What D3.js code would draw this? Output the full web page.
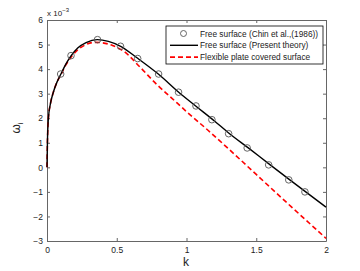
<!DOCTYPE html>
<html>
<head>
<meta charset="utf-8">
<script src="https://cdn.jsdelivr.net/npm/d3@7"></script>
<style>
  body { margin: 0; background: #fff; }
  text { font-family: "Liberation Sans", Arial, sans-serif; }
</style>
</head>
<body>
<svg id="drawing_region"></svg>
<script>
// values in units of 1e-3
const chinK = [0.098, 0.172, 0.362, 0.527, 0.650, 0.800, 0.943, 1.068, 1.182, 1.302, 1.435, 1.589, 1.733, 1.849];
const chinW = [3.80, 4.55, 5.20, 4.93, 4.43, 3.80, 3.06, 2.50, 1.94, 1.37, 0.79, 0.10, -0.51, -1.00];

const freeK = [0, 0.003, 0.01, 0.025, 0.045, 0.07, 0.1, 0.135, 0.172, 0.22, 0.28, 0.36, 0.44, 0.528, 0.65, 0.8, 0.944, 1.068, 1.2, 1.3, 1.45, 1.6, 1.75, 1.85, 2.0];
const freeW = [0, 1.0, 2.0, 2.6, 3.05, 3.45, 3.8, 4.2, 4.54, 4.86, 5.08, 5.2, 5.13, 4.93, 4.44, 3.79, 3.06, 2.49, 1.89, 1.41, 0.76, 0.1, -0.55, -0.98, -1.62];

const plateK = [0, 0.003, 0.01, 0.025, 0.045, 0.07, 0.1, 0.135, 0.172, 0.22, 0.28, 0.34, 0.4, 0.47, 0.547, 0.667, 0.786, 0.894, 1.0, 1.156, 1.3, 1.5, 1.75, 2.0];
const plateW = [0, 1.0, 2.0, 2.6, 3.05, 3.45, 3.78, 4.17, 4.48, 4.78, 5.0, 5.09, 5.07, 4.96, 4.74, 4.08, 3.38, 2.82, 2.27, 1.5, 0.76, -0.29, -1.6, -2.89];

const xTicks = [0, 0.5, 1, 1.5, 2];
const yTicks = [-3, -2, -1, 0, 1, 2, 3, 4, 5, 6];
const legendLabels = ['Free surface (Chin et al.,(1986))', 'Free surface (Present theory)', 'Flexible plate covered surface'];

const width = 360, height = 271;
const margin = { top: 20, right: 34, bottom: 30, left: 47 };
const innerW = width - margin.left - margin.right;
const innerH = height - margin.top - margin.bottom;

const svg = d3.select('#drawing_region').attr('width', width).attr('height', height);
const chart = svg.append('g').attr('transform', `translate(${margin.left},${margin.top})`);

const x = d3.scaleLinear().domain([0, 2]).range([0, innerW]);
const y = d3.scaleLinear().domain([-3, 6]).range([innerH, 0]);

const axisColor = '#666';

// axes with inward ticks
const xAxis = chart.append('g').attr('transform', `translate(0,${innerH})`)
    .call(d3.axisBottom(x).tickValues(xTicks).tickSizeInner(-3).tickSizeOuter(0).tickPadding(6).tickFormat(d3.format('')));
const yAxis = chart.append('g')
    .call(d3.axisLeft(y).tickValues(yTicks).tickSizeInner(-3).tickSizeOuter(0).tickPadding(4)
        .tickFormat(d => d < 0 ? '\u2212' + Math.abs(d) : d));
const xTop = chart.append('g')
    .call(d3.axisTop(x).tickValues(xTicks).tickSizeInner(-3).tickSizeOuter(0).tickFormat(''));
const yRight = chart.append('g').attr('transform', `translate(${innerW},0)`)
    .call(d3.axisRight(y).tickValues(yTicks).tickSizeInner(-3).tickSizeOuter(0).tickFormat(''));

[xAxis, yAxis, xTop, yRight].forEach(a => {
    a.selectAll('path').attr('stroke', axisColor);
    a.selectAll('line').attr('stroke', axisColor);
    a.selectAll('text').attr('fill', '#222').style('font-size', '8.5px');
});

// lines
const line = d3.line().x(d => x(d[0])).y(d => y(d[1])).curve(d3.curveMonotoneX);

chart.append('path')
    .datum(plateK.map((k, i) => [k, plateW[i]]))
    .attr('d', line)
    .attr('fill', 'none')
    .attr('stroke', '#ff0000')
    .attr('stroke-width', 1.6)
    .attr('stroke-dasharray', '5,3');

chart.append('path')
    .datum(freeK.map((k, i) => [k, freeW[i]]))
    .attr('d', line)
    .attr('fill', 'none')
    .attr('stroke', '#000')
    .attr('stroke-width', 1.4);

chart.selectAll('circle.chin')
    .data(chinK.map((k, i) => [k, chinW[i]]))
    .enter().append('circle')
    .attr('class', 'chin')
    .attr('cx', d => x(d[0]))
    .attr('cy', d => y(d[1]))
    .attr('r', 3.3)
    .attr('fill', 'none')
    .attr('stroke', '#555')
    .attr('stroke-width', 0.9);

// legend
const legend = svg.append('g').attr('transform', 'translate(166,26)');
legend.append('rect')
    .attr('width', 157).attr('height', 38)
    .attr('fill', '#fff').attr('stroke', '#000').attr('stroke-width', 0.8);
legendLabels.forEach((lab, i) => {
    const ly = 7.5 + i * 11.8;
    if (i === 0) {
        legend.append('circle').attr('cx', 17.5).attr('cy', ly).attr('r', 3)
            .attr('fill', 'none').attr('stroke', '#555').attr('stroke-width', 0.9);
    } else {
        legend.append('line').attr('x1', 4).attr('x2', 32).attr('y1', ly).attr('y2', ly)
            .attr('stroke', i === 1 ? '#000' : '#ff0000')
            .attr('stroke-width', i === 1 ? 1.4 : 1.6)
            .attr('stroke-dasharray', i === 1 ? null : '5,3');
    }
    legend.append('text').attr('x', 34).attr('y', ly + 3)
        .style('font-size', '8.3px').attr('fill', '#222').text(lab);
});

// labels
svg.append('text').attr('x', 186).attr('y', 266).attr('text-anchor', 'middle')
    .style('font-size', '12px').attr('fill', '#222').text('k');

const yl = svg.append('text').attr('transform', 'translate(20,128) rotate(-90)')
    .attr('text-anchor', 'middle').style('font-size', '12px').attr('fill', '#222');
yl.append('tspan').text('\u03c9');
yl.append('tspan').attr('dy', 3).style('font-size', '8px').text('i');

const sc = svg.append('text').attr('x', 47).attr('y', 16).style('font-size', '8px').attr('fill', '#222');
sc.append('tspan').text('x 10');
sc.append('tspan').attr('dy', -4).style('font-size', '6px').text('\u22123');
</script>
</body>
</html>
